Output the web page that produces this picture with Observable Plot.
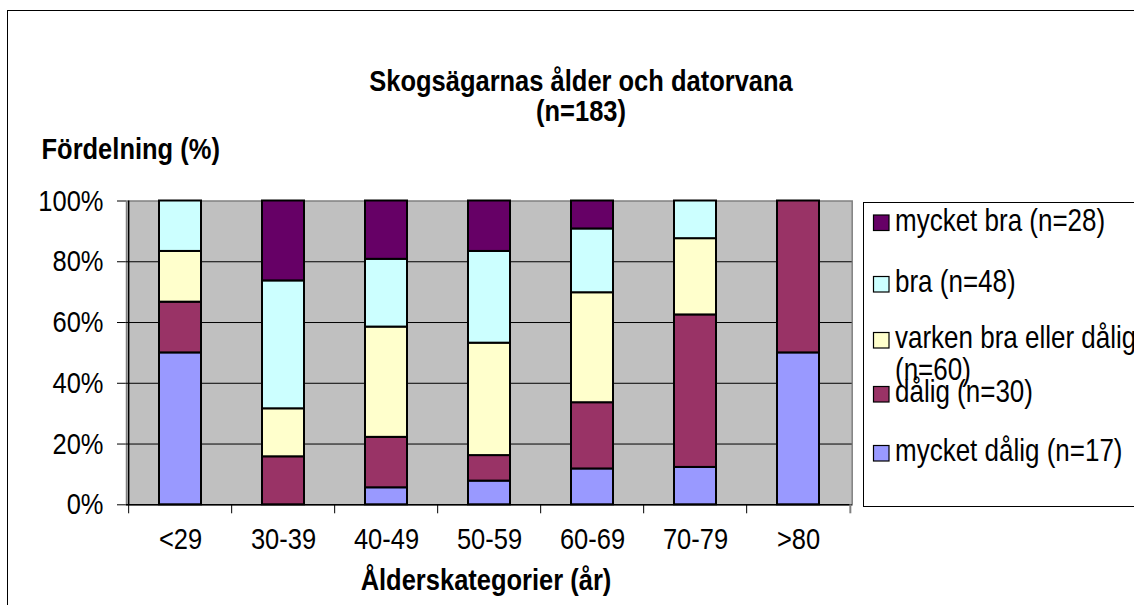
<!DOCTYPE html>
<html>
<head>
<meta charset="utf-8">
<script src="https://cdn.jsdelivr.net/npm/d3@7"></script>
<script src="https://cdn.jsdelivr.net/npm/@observablehq/plot@0.6"></script>
<style>
  html, body { margin: 0; padding: 0; background: #fff; }
  #chart { position: relative; width: 1134px; height: 605px; overflow: hidden; }
  #chart svg { display: block; }
</style>
</head>
<body>
<div id="chart"></div>
<script>
// ---- data ----
const ages = ["<29", "30-39", "40-49", "50-59", "60-69", "70-79", ">80"];
const seriesNames = ["mycket dålig", "dålig", "varken bra eller dåligt", "bra", "mycket bra"]; // bottom -> top
const seriesN = [17, 30, 60, 48, 28];
const seriesColors = ["#9999FF", "#993366", "#FFFFCC", "#CCFFFF", "#660066"];
const mycketDalig = [50.0, 0.0, 5.6, 7.8, 11.8, 12.3, 50.0];
const dalig       = [16.7, 15.8, 16.6, 8.4, 21.8, 50.2, 50.0];
const varken      = [16.7, 15.8, 36.3, 37.0, 36.2, 25.1, 0.0];
const bra         = [16.6, 42.1, 22.3, 30.2, 21.0, 12.4, 0.0];
const mycketBra   = [0.0, 26.3, 19.2, 16.6, 9.2, 0.0, 0.0];
const yTicks = [0, 20, 40, 60, 80, 100];
const titleLines = ["Skogsägarnas ålder och datorvana", "(n=183)"];
const yTitle = "Fördelning (%)";
const xTitle = "Ålderskategorier (år)";

const seriesValues = [mycketDalig, dalig, varken, bra, mycketBra];
const rows = [];
seriesNames.forEach((s, si) => ages.forEach((a, ai) => {
  rows.push({age: a, series: s, value: seriesValues[si][ai]});
}));

// ---- layout ----
const W = 1134, H = 605;
const ML = 126, MR = 282.3, MT = 200.5, MB = 100.7;
const step = (W - ML - MR) / ages.length;
const FONT = "'Liberation Sans', Arial, Helvetica, sans-serif";
const FS = 25.5;
const VS = 1.18; // vertical stretch of text in the reference

const plot = Plot.plot({
  width: W, height: H,
  marginLeft: ML, marginRight: MR, marginTop: MT, marginBottom: MB,
  style: {fontFamily: FONT, fontSize: FS + "px", color: "black", background: "transparent"},
  x: {domain: ages, paddingInner: 0.595, paddingOuter: 0.2975, label: null, tickSize: 0, tickPadding: 22.8},
  y: {domain: [0, 100], ticks: yTicks, tickFormat: d => d + "%", label: null, tickSize: 9, tickPadding: 14},
  color: {domain: seriesNames, range: seriesColors},
  marks: [
    Plot.frame({fill: "#C0C0C0", stroke: "#808080", strokeWidth: 1.5}),
    Plot.ruleY(yTicks.filter(d => d > 0 && d < 100), {stroke: "black", strokeWidth: 1}),
    Plot.barY(rows.filter(d => d.value > 0), {x: "age", y: "value", fill: "series", stroke: "black", strokeWidth: 2}),
    Plot.ruleY([0], {stroke: "black", strokeWidth: 1.5}),
    Plot.ruleX([ages[0]], {x: d => d, dx: -step / 2, y1: 0, y2: 100, stroke: "black", strokeWidth: 1.5}),
    Plot.ruleX(ages, {x: d => d, dx: -step / 2, y1: 0, y2: 0, insetBottom: -9, stroke: "black", strokeWidth: 1}),
    Plot.ruleX([ages[ages.length - 1]], {x: d => d, dx: step / 2, y1: 0, y2: 0, insetBottom: -9, stroke: "#808080", strokeWidth: 2})
  ]
});

// stretch plot's own texts vertically to match the reference typography
d3.select(plot).selectAll("text").each(function () {
  const t = this.getAttribute("transform") || "";
  this.setAttribute("transform", (t + " scale(1," + VS + ")").trim());
});

document.getElementById("chart").appendChild(plot);

const svg = d3.select(plot);
const g = svg.append("g").attr("font-family", FONT);

function addText(x, y, str, {weight = "normal", anchor = "start", size = FS} = {}) {
  g.append("text")
    .attr("transform", `translate(${x},${y}) scale(1,${VS})`)
    .attr("text-anchor", anchor)
    .attr("font-weight", weight)
    .attr("font-size", size)
    .attr("fill", "black")
    .text(str);
}

// outer chart border (continues past the right and bottom edges)
g.append("rect").attr("x", 7.5).attr("y", 10.5).attr("width", 1400).attr("height", 900)
  .attr("fill", "none").attr("stroke", "black").attr("stroke-width", 1);

// titles
addText(581, 90.5, titleLines[0], {weight: "bold", anchor: "middle"});
addText(581, 120.5, titleLines[1], {weight: "bold", anchor: "middle"});
addText(41.5, 159, yTitle, {weight: "bold"});
addText(486, 590, xTitle, {weight: "bold", anchor: "middle"});

// legend
g.append("rect").attr("x", 863.5).attr("y", 202.5).attr("width", 600).attr("height", 304)
  .attr("fill", "white").attr("stroke", "black").attr("stroke-width", 1);
const legendOrder = seriesNames.map((s, i) => i).reverse(); // top -> bottom
const legendSquareCenters = [222.5, 284, 340, 394, 453];
legendOrder.forEach((si, k) => {
  const cy = legendSquareCenters[k];
  g.append("rect").attr("x", 873.5).attr("y", cy - 7.5).attr("width", 15.5).attr("height", 15.5)
    .attr("fill", seriesColors[si]).attr("stroke", "black").attr("stroke-width", 1.2);
  const label = seriesNames[si] + " (n=" + seriesN[si] + ")";
  if (seriesNames[si].length > 15) {
    addText(895, cy + 8, seriesNames[si], {size: 26});
    addText(895, cy + 40, "(n=" + seriesN[si] + ")", {size: 26});
  } else {
    addText(895, cy + 8, label, {size: 26});
  }
});
</script>
</body>
</html>
